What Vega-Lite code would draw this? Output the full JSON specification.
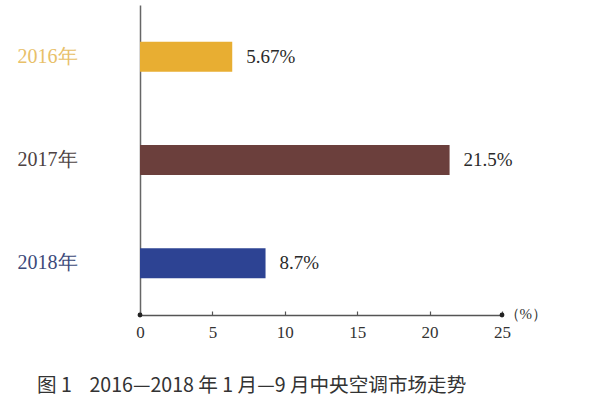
{
  "$schema": "https://vega.github.io/schema/vega-lite/v6.json",
  "width": 362,
  "height": 310,
  "autosize": {"type": "none"},
  "padding": {"left": 140, "top": 5, "right": 98, "bottom": 91},
  "background": "white",
  "config": {"view": {"stroke": null}},
  "title": {
    "text": "图 1\u00a0\u00a0\u00a0\u00a02016—2018 年 1 月—9 月中央空调市场走势",
    "orient": "bottom",
    "anchor": "start",
    "frame": "group",
    "dx": -103,
    "offset": 37,
    "font": "Noto Sans CJK SC",
    "fontSize": 19.6,
    "fontWeight": "normal",
    "color": "#333333"
  },
  "data": {
    "values": [
      {"year": "2016年", "value": 6.37, "label": "5.67%"},
      {"year": "2017年", "value": 21.38, "label": "21.5%"},
      {"year": "2018年", "value": 8.67, "label": "8.7%"}
    ]
  },
  "layer": [
    {
      "mark": {"type": "bar", "size": 30},
      "encoding": {
        "y": {
          "field": "year",
          "type": "nominal",
          "sort": null,
          "scale": {"paddingInner": 0.7, "paddingOuter": 0.35},
          "axis": {
            "title": null,
            "ticks": false,
            "domainColor": "#666666",
            "domainWidth": 1.5,
            "labelFont": "Liberation Serif",
            "labelFontSize": 20,
            "labelPadding": 63,
            "labelColor": {"expr": "datum.value == '2016年' ? '#e8c068' : datum.value == '2017年' ? '#4d4242' : '#3c4a7a'"}
          }
        },
        "x": {
          "field": "value",
          "type": "quantitative",
          "scale": {"domain": [0, 25], "nice": false},
          "axis": {
            "values": [0, 5, 10, 15, 20, 25],
            "grid": false,
            "domainColor": "#555555",
            "domainWidth": 1.5,
            "tickColor": "#555555",
            "tickSize": -4,
            "tickWidth": 1.2,
            "labelFont": "Liberation Serif",
            "labelFontSize": 17,
            "labelColor": "#333333",
            "labelPadding": 13,
            "labelFlush": false,
            "title": "（%）",
            "titleX": 364,
            "titleY": -2,
            "titleAlign": "left",
            "titleBaseline": "middle",
            "titleFont": "Liberation Serif",
            "titleFontSize": 15,
            "titleFontWeight": "normal",
            "titleColor": "#333333"
          }
        },
        "color": {
          "field": "year",
          "type": "nominal",
          "scale": {"domain": ["2016年", "2017年", "2018年"], "range": ["#e8ae32", "#6b3f3c", "#2d4393"]},
          "legend": null
        }
      }
    },
    {
      "mark": {"type": "text", "align": "left", "baseline": "middle", "dx": 14, "font": "Liberation Serif", "fontSize": 19, "color": "#2a2a2a"},
      "encoding": {
        "y": {"field": "year", "type": "nominal", "sort": null},
        "x": {"field": "value", "type": "quantitative"},
        "text": {"field": "label"}
      }
    },
    {
      "data": {"values": [{"end": 0}, {"end": 25}]},
      "mark": {"type": "point", "filled": true, "size": 24, "color": "#222222", "opacity": 1},
      "encoding": {
        "x": {"field": "end", "type": "quantitative"},
        "y": {"value": "height"}
      }
    }
  ]
}
